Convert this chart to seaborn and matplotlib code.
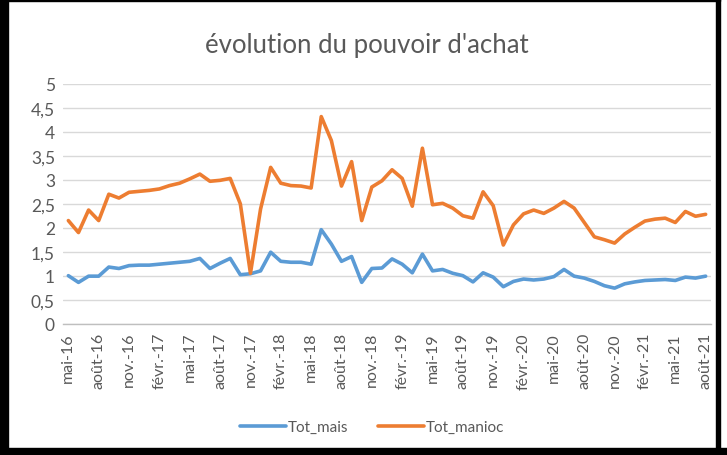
import matplotlib
matplotlib.use("Agg")
import matplotlib.pyplot as plt
import seaborn as sns
import pandas as pd
from matplotlib.patches import Rectangle
from matplotlib.ticker import FixedLocator, FuncFormatter

months = ["mai-16","juin-16","juil.-16","août-16","sept.-16","oct.-16","nov.-16","déc.-16",
          "janv.-17","févr.-17","mars-17","avr.-17","mai-17","juin-17","juil.-17","août-17",
          "sept.-17","oct.-17","nov.-17","déc.-17","janv.-18","févr.-18","mars-18","avr.-18",
          "mai-18","juin-18","juil.-18","août-18","sept.-18","oct.-18","nov.-18","déc.-18",
          "janv.-19","févr.-19","mars-19","avr.-19","mai-19","juin-19","juil.-19","août-19",
          "sept.-19","oct.-19","nov.-19","déc.-19","janv.-20","févr.-20","mars-20","avr.-20",
          "mai-20","juin-20","juil.-20","août-20","sept.-20","oct.-20","nov.-20","déc.-20",
          "janv.-21","févr.-21","mars-21","avr.-21","mai-21","juin-21","juil.-21","août-21"]

tot_mais = [1.00,0.86,0.99,0.99,1.18,1.15,1.21,1.22,1.22,1.24,1.26,1.28,1.30,1.36,1.15,1.26,
            1.36,1.02,1.04,1.10,1.49,1.30,1.28,1.28,1.24,1.96,1.66,1.30,1.40,0.86,1.15,1.16,
            1.35,1.24,1.06,1.45,1.10,1.13,1.05,1.00,0.87,1.06,0.97,0.77,0.88,0.93,0.91,0.93,
            0.98,1.13,0.99,0.95,0.88,0.79,0.74,0.83,0.87,0.90,0.91,0.92,0.90,0.97,0.95,0.99]

tot_manioc = [2.15,1.90,2.37,2.15,2.70,2.62,2.74,2.76,2.78,2.81,2.88,2.93,3.02,3.12,2.97,2.99,
              3.03,2.50,1.05,2.39,3.26,2.93,2.88,2.87,2.83,4.32,3.82,2.87,3.38,2.15,2.85,2.98,
              3.21,3.03,2.45,3.66,2.48,2.51,2.41,2.25,2.20,2.75,2.46,1.64,2.06,2.29,2.37,2.30,
              2.41,2.55,2.41,2.11,1.81,1.75,1.68,1.87,2.01,2.14,2.18,2.20,2.11,2.34,2.24,2.28]

y_ticks = [0, 0.5, 1, 1.5, 2, 2.5, 3, 3.5, 4, 4.5, 5]

df = pd.DataFrame({
    "idx": list(range(len(months))) * 2,
    "valeur": tot_mais + tot_manioc,
    "serie": ["Tot_mais"] * len(months) + ["Tot_manioc"] * len(months),
})

sns.set_theme(style="white")
plt.rcParams["font.family"] = ["Lato", "DejaVu Sans"]

W, H = 727, 456
fig = plt.figure(figsize=(W / 100, H / 100), dpi=100)
ax = fig.add_axes([63.3 / W, (H - 324.6) / H, (710.7 - 63.3) / W, (324.6 - 85) / H])

palette = {"Tot_mais": "#5B9BD5", "Tot_manioc": "#ED7D31"}
sns.lineplot(data=df, x="idx", y="valeur", hue="serie", palette=palette,
             linewidth=2.6, ax=ax, legend=True)

n = len(months)
ax.set_xlim(-0.5, n - 0.5)
ax.set_ylim(0, 5)
ax.set_yticks(y_ticks)
ax.yaxis.set_major_formatter(FuncFormatter(lambda v, p: (f"{v:g}").replace(".", ",")))
ax.grid(axis="y", color="#d9d9d9", linewidth=1)
ax.set_axisbelow(True)

label_idx = list(range(0, n, 3))
ax.set_xticks(label_idx)
ax.set_xticklabels([months[i] for i in label_idx], rotation=90)
ax.xaxis.set_minor_locator(FixedLocator([i - 0.5 for i in label_idx] + [n - 0.5]))
ax.tick_params(axis="x", which="major", length=0, pad=6, labelsize=11.5, labelcolor="#595959")
ax.tick_params(axis="x", which="minor", length=5, color="#bfbfbf", width=1, direction="out")
ax.tick_params(axis="y", length=0, labelsize=12.5, labelcolor="#595959", pad=6)
for s in ["top", "right", "left"]:
    ax.spines[s].set_visible(False)
ax.spines["bottom"].set_color("#bfbfbf")
ax.spines["bottom"].set_linewidth(1)
ax.set_xlabel("")
ax.set_ylabel("")

ax.legend_.remove()
handles, labels = ax.get_legend_handles_labels()
fig.legend(handles, labels, loc="center", bbox_to_anchor=(372 / W, 1 - 428 / H),
           ncol=2, frameon=False, fontsize=11, handlelength=3.0, columnspacing=2.0,
           handletextpad=0.1, labelcolor="#595959")

fig.text(367 / W, 1 - 45 / H, "évolution du pouvoir d'achat", ha="center", va="center",
         fontsize=18.5, color="#595959")

# dark frame of the screenshot
fig.patches.append(Rectangle((0, 0), 8 / W, 1, transform=fig.transFigure, color="black", zorder=10))
fig.patches.append(Rectangle((0, 0), 1, 7 / H, transform=fig.transFigure, color="black", zorder=10))
fig.patches.append(Rectangle((716 / W, 0), 4 / W, 1, transform=fig.transFigure, color="black", zorder=10))
fig.patches.append(Rectangle((0, 1 - 2 / H), 720 / W, 2 / H, transform=fig.transFigure, color="black", zorder=10))

fig.savefig("out.png", dpi=100)
